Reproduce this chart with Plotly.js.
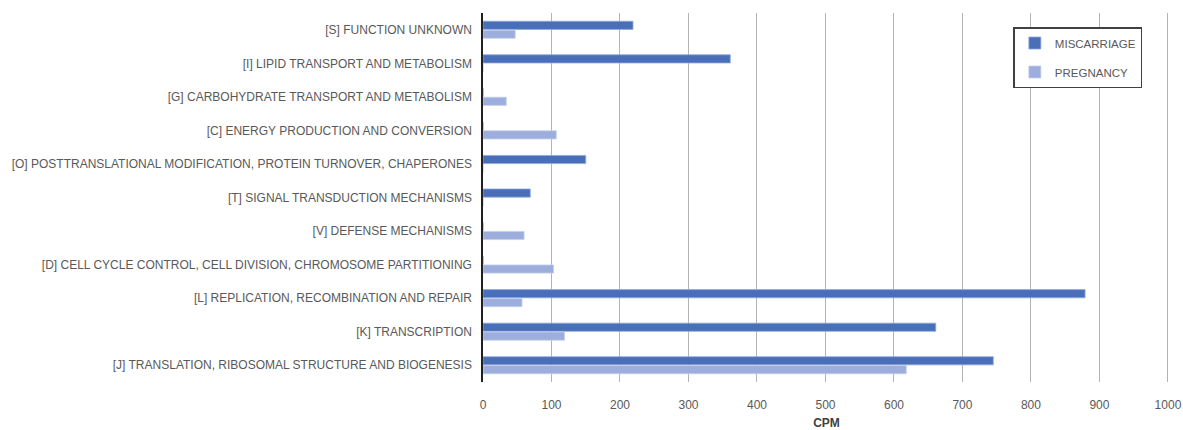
<!DOCTYPE html>
<html>
<head>
<meta charset="utf-8">
<script src="https://cdn.plot.ly/plotly-3.0.1.min.js"></script>
<style>html,body{margin:0;padding:0;background:#fff;}#chart{width:1183px;height:430px;}</style>
</head>
<body>
<div id="chart"></div>
<script>
const categories = [
  "[S] FUNCTION UNKNOWN",
  "[I] LIPID TRANSPORT AND METABOLISM",
  "[G] CARBOHYDRATE TRANSPORT AND METABOLISM",
  "[C] ENERGY PRODUCTION AND CONVERSION",
  "[O] POSTTRANSLATIONAL MODIFICATION, PROTEIN TURNOVER, CHAPERONES",
  "[T] SIGNAL TRANSDUCTION MECHANISMS",
  "[V] DEFENSE MECHANISMS",
  "[D] CELL CYCLE CONTROL, CELL DIVISION, CHROMOSOME PARTITIONING",
  "[L] REPLICATION, RECOMBINATION AND REPAIR",
  "[K] TRANSCRIPTION",
  "[J] TRANSLATION, RIBOSOMAL STRUCTURE AND BIOGENESIS"
];
const miscarriage = [219, 361, 0, 0, 150, 69, 0, 0, 879, 661, 745];
const pregnancy   = [47, 0, 34, 107, 0, 0, 60, 103, 57, 119, 618];
const xTicks = [0,100,200,300,400,500,600,700,800,900,1000];

const font = "'Liberation Sans', Arial, sans-serif";
const traces = [
  {type:'bar', orientation:'h', name:'MISCARRIAGE', y:categories, x:miscarriage,
   legendgroup:'a',
   marker:{color:'#4a6fb9', line:{color:'#8fa8dc', width:0.8}}},
  {type:'bar', orientation:'h', name:'PREGNANCY', y:categories, x:pregnancy,
   legendgroup:'b',
   marker:{color:'#9daedd', line:{color:'#c3cfee', width:0.8}}}
];
const layout = {
  width:1183, height:430,
  margin:{l:483, r:13, t:13, b:48},
  paper_bgcolor:'#fff', plot_bgcolor:'#fff',
  barmode:'group', bargap:0.47, bargroupgap:0.08,
  font:{family:font, size:12, color:'#595959'},
  showlegend:true,
  legend:{x:0.772, y:0.962, xanchor:'left', yanchor:'top',
    bordercolor:'#404040', borderwidth:1.5, bgcolor:'#fff',
    traceorder:'grouped', tracegroupgap:10, entrywidth:117,
    font:{family:font, size:11.5, color:'#595959'}, itemwidth:30},
  xaxis:{range:[0,1003], tickvals:xTicks, showgrid:true, gridcolor:'#b4b4b4', gridwidth:1,
    zeroline:false, showline:false, ticks:'outside', ticklen:12, tickcolor:'rgba(0,0,0,0)', fixedrange:true,
    tickfont:{family:font, size:12, color:'#595959'},
    title:{text:'<b>CPM</b>', font:{family:font, size:12, color:'#404040'}, standoff:8}},
  yaxis:{type:'category', autorange:'reversed', showline:true, linecolor:'#202020', linewidth:2,
    ticks:'', showgrid:false, ticksuffix:'  ', fixedrange:true,
    tickfont:{family:font, size:12, color:'#595959'}}
};
Plotly.newPlot('chart', traces, layout, {displayModeBar:false, staticPlot:true});
</script>
</body>
</html>
